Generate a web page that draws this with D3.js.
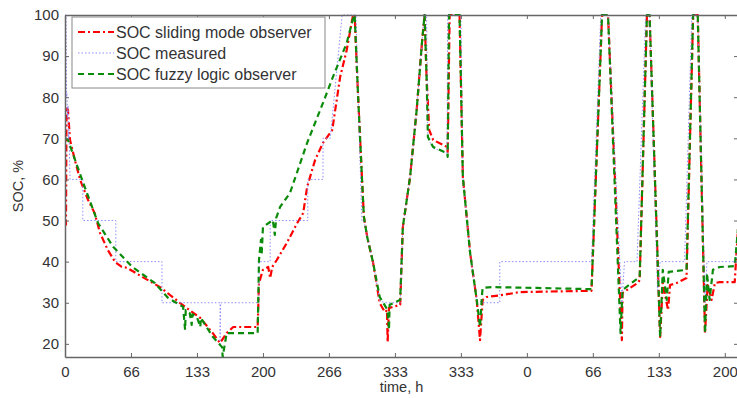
<!DOCTYPE html>
<html>
<head>
<meta charset="utf-8">
<script src="https://cdn.jsdelivr.net/npm/d3@7"></script>
<style>
    body { margin: 0; background: #fff; }
    svg { display: block; font-family: "Liberation Sans", Arial, sans-serif; }
</style>
</head>
<body>
<script>
// x is sample index, ticks every 100 samples carry the hour labels of the original figure
const xTicks = [0, 100, 200, 300, 400, 500, 600, 700, 800, 900, 1000];
const xTickLabels = ["0", "66", "133", "200", "266", "333", "333", "0", "66", "133", "200"];
const yTicks = [20, 30, 40, 50, 60, 70, 80, 90, 100];

const slidingMode = [
    [0, 49.4], [1.5, 49], [2.3, 77.6], [4.5, 76.9], [7.6, 69.6], [15, 64.7], [23, 59.9], [35, 55.0],
    [45, 51.8], [53, 47.0], [65, 42.8], [76, 39.9], [86, 38.7], [94, 38.5], [117, 36.3], [144, 33.8],
    [182, 29.0], [205, 26.3], [224, 22.6], [235, 20.2], [245, 22.6], [255, 24.1], [292, 24.1],
    [294, 34.8], [300, 38.0], [308, 38.7], [311, 36.0], [314, 38.7], [321, 40.4], [336, 44.5],
    [352, 49.4], [361, 51.8], [367, 58.2], [379, 64.7], [391, 68.9], [405, 72.0], [417, 84.9],
    [427, 91.5], [436, 99.5], [439, 100], [444, 81.0], [450, 60.6], [453, 50.9], [458, 46.0],
    [467, 39.7], [477, 29.9], [485, 27.7], [488, 28.2], [489, 20.4], [491, 28.7], [508, 29.5],
    [512, 48.4], [523, 60.6], [533, 76.9], [541, 93.2], [545, 100], [548, 84.9], [552, 72.0],
    [558, 69.6], [579, 67.9], [580, 66.7], [583, 100], [598, 100], [603, 60.6], [614, 42.1],
    [624, 30.7], [629, 20.9], [633, 30.7], [639, 31.4], [664, 31.9], [689, 32.6], [798, 32.9],
    [814, 100], [823, 100], [844, 20.9], [845, 32.4], [868, 34.8], [871, 35.5], [882, 100],
    [886, 100], [902, 21.7], [906, 34.8], [914, 28.2], [917, 34.3], [927, 34.8], [942, 36.0],
    [952, 100], [959, 100], [970, 22.6], [974, 34.3], [980, 30.7], [985, 34.8], [992, 35.0],
    [1015, 35.0], [1020, 48]
];

const measured = [
    [0, 100], [1.5, 100], [2.3, 80], [3, 81], [3.8, 75], [4.5, 78], [5.3, 70], [6, 72], [7.6, 60],
    [27, 60], [27, 50], [77, 50], [77, 40], [147, 40], [147, 30], [235, 30], [235, 20], [236, 30],
    [294, 30], [294, 40], [311, 40], [311, 50], [368, 50], [368, 60], [391, 60], [391, 70],
    [402, 70], [420, 100], [441, 100], [444, 81], [448, 60], [450, 50], [453, 50], [458, 46],
    [467, 39.7], [477, 30.5], [485, 30], [508, 30], [512, 48.4], [523, 60.6], [533, 76.9],
    [541, 93.2], [544, 100], [548, 100], [550, 70], [558, 67.6], [579, 66.4], [580, 100],
    [600, 100], [603, 60.6], [614, 42.1], [624, 30.7], [633, 30], [659, 30], [659, 40], [798, 40],
    [812, 100], [823, 100], [844, 30], [848, 40], [867, 40], [880, 100], [886, 100], [898, 33],
    [902, 40], [939, 40], [950, 100], [959, 100], [970, 30], [973, 40], [1018, 40], [1020, 45]
];

const fuzzyLogic = [
    [0, 70.1], [4.5, 69.6], [26, 59.9], [50, 49.4], [73, 43.6], [102, 38.7], [136, 34.8], [156, 31.2],
    [179, 29.0], [182, 23.4], [183, 28.2], [189, 27.5], [192, 24.6], [193, 27.2], [200, 26.5],
    [205, 24.1], [206, 26.3], [224, 21.7], [238, 19.2], [239, 16.8], [242, 19.7], [245, 22.6],
    [292, 22.6], [294, 40.4], [297, 45.3], [298, 41.6], [300, 48.4], [315, 50.1], [318, 46.5],
    [320, 50.6], [326, 53.3], [341, 56.7], [367, 68.9], [391, 78.6], [406, 84.9], [427, 93.2],
    [436, 98.8], [439, 100], [444, 81.0], [450, 60.6], [453, 50.9], [458, 46.0], [467, 39.7],
    [477, 31.4], [489, 28.2], [491, 23.4], [492, 29.5], [508, 30.7], [512, 48.4], [523, 60.6],
    [533, 76.9], [541, 93.2], [545, 100], [548, 84.9], [550, 70.3], [558, 67.9], [579, 66.4],
    [580, 65.5], [582, 100], [598, 100], [603, 60.6], [614, 42.1], [624, 30.7], [629, 24.1],
    [632, 31.9], [633, 33.6], [648, 33.8], [715, 33.6], [798, 33.3], [814, 100], [823, 100],
    [842, 22.6], [845, 33.1], [871, 36.3], [882, 100], [886, 100], [902, 21.7], [906, 38.0],
    [912, 30.7], [915, 37.5], [942, 38.0], [952, 100], [959, 100], [970, 22.6], [973, 37.2],
    [977, 30.7], [982, 38.0], [992, 38.7], [1015, 38.9], [1020, 48]
];

const series = [
    {name: "SOC sliding mode observer", data: slidingMode, color: "#ff0000", width: 2.2, dash: "7,3,2,3"},
    {name: "SOC measured", data: measured, color: "#8c8cff", width: 1, dash: "1.5,2"},
    {name: "SOC fuzzy logic observer", data: fuzzyLogic, color: "#0a8c0a", width: 2.2, dash: "6,4"}
];

const W = 737, H = 398;
const margin = {top: 15, right: -1, bottom: 41, left: 65};

const svg = d3.select("body").append("svg")
    .attr("width", W)
    .attr("height", H);

const x = d3.scaleLinear().domain([0, 1020]).range([margin.left, W - margin.right]);
const y = d3.scaleLinear().domain([16.8, 100]).range([H - margin.bottom, margin.top]);

svg.append("defs").append("clipPath").attr("id", "plot-clip")
    .append("rect")
    .attr("x", margin.left).attr("y", margin.top - 1)
    .attr("width", W - margin.right - margin.left)
    .attr("height", H - margin.bottom - margin.top + 1);

const line = d3.line()
    .x(d => x(d[0]))
    .y(d => y(d[1]));

const plot = svg.append("g").attr("clip-path", "url(#plot-clip)");

plot.selectAll("path")
    .data(series)
    .join("path")
    .attr("d", d => line(d.data))
    .attr("fill", "none")
    .attr("stroke", d => d.color)
    .attr("stroke-width", d => d.width)
    .attr("stroke-dasharray", d => d.dash)
    .attr("stroke-linejoin", "round");

// matlab style axes: ticks pointing inwards, on all four sides
const axisColor = "#666";
const tickLen = 4;

const xAxis = d3.axisBottom(x)
    .tickValues(xTicks)
    .tickFormat((d, i) => xTickLabels[i])
    .tickSizeInner(-tickLen)
    .tickSizeOuter(0)
    .tickPadding(9);

const yAxis = d3.axisLeft(y)
    .tickValues(yTicks)
    .tickSizeInner(-tickLen)
    .tickSizeOuter(0)
    .tickPadding(6);

svg.append("g")
    .attr("transform", `translate(0,${H - margin.bottom})`)
    .call(xAxis);

svg.append("g")
    .attr("transform", `translate(${margin.left},0)`)
    .call(yAxis);

svg.append("g")
    .attr("transform", `translate(0,${margin.top})`)
    .call(d3.axisTop(x).tickValues(xTicks).tickFormat("").tickSizeInner(-tickLen).tickSizeOuter(0));

svg.append("g")
    .attr("transform", `translate(${W - margin.right},0)`)
    .call(d3.axisRight(y).tickValues(yTicks).tickFormat("").tickSizeInner(-tickLen).tickSizeOuter(0));

svg.selectAll(".domain").attr("stroke", axisColor).attr("stroke-width", 1.5);
svg.selectAll(".tick line").attr("stroke", axisColor);
svg.selectAll(".tick text")
    .attr("fill", "#333")
    .style("font-size", "15px");

svg.append("text")
    .attr("x", (margin.left + W - margin.right) / 2)
    .attr("y", 392)
    .attr("text-anchor", "middle")
    .attr("fill", "#333")
    .style("font-size", "14.5px")
    .text("time, h");

svg.append("text")
    .attr("transform", `translate(23,${(margin.top + H - margin.bottom) / 2}) rotate(-90)`)
    .attr("text-anchor", "middle")
    .attr("fill", "#333")
    .style("font-size", "14.5px")
    .text("SOC, %");

// legend
const legend = svg.append("g").attr("transform", "translate(72,17)");

legend.append("rect")
    .attr("width", 253)
    .attr("height", 71)
    .attr("fill", "#fff")
    .attr("stroke", "#888")
    .attr("stroke-width", 1);

const item = legend.selectAll("g.item")
    .data(series)
    .join("g")
    .attr("class", "item")
    .attr("transform", (d, i) => `translate(0,${15 + i * 21})`);

item.append("line")
    .attr("x1", 6).attr("x2", 42)
    .attr("stroke", d => d.color)
    .attr("stroke-width", d => d.width)
    .attr("stroke-dasharray", d => d.dash);

item.append("text")
    .attr("x", 44)
    .attr("y", 5.5)
    .attr("fill", "#333")
    .style("font-size", "16px")
    .text(d => d.name);
</script>
</body>
</html>
